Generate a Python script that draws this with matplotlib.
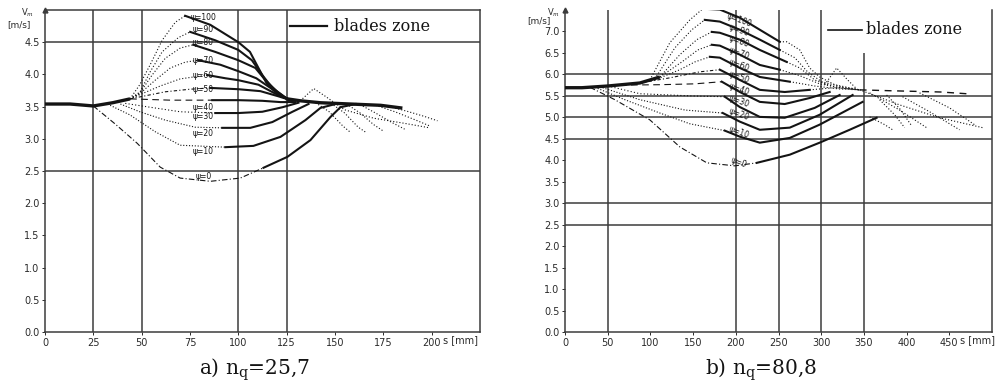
import matplotlib
matplotlib.use('Agg')
import matplotlib.pyplot as plt

plt.rcParams['mathtext.fontset'] = 'dejavuserif'

INK = '#141414'
GRID = '#3c3c3c'

# ---------------- a) nq = 25,7 ----------------
a_psi = [0, 10, 20, 30, 40, 50, 60, 70, 80, 90, 100]

# common inlet stretch
a_inlet_s = [0, 13, 25, 35, 44]
a_inlet_v = [3.54, 3.54, 3.51, 3.56, 3.62]

# upstream of the blades, one list per streamline
a_pre_s = [
    [25, 36.3, 47.7, 59.6, 69.9, 85.5, 101, 113],
    [33.7, 44, 57, 69.9, 93.3],
    [39, 49, 62.2, 77.7, 91.7],
    [41.5, 54.4, 69.9, 88.1],
    [44, 64.8, 86.5],
    [44, 62.2, 75.1, 85.5],
    [44, 59.6, 69.9, 83.9],
    [44, 49, 57, 64.8, 72.5, 79.3],
    [44, 49, 55.4, 62.2, 70, 76.7],
    [44, 49.2, 54.4, 60.6, 68.9, 75.1],
    [44, 49, 54.4, 60.6, 67.4, 72.5],
]
a_pre_v = [
    [3.51, 3.23, 2.93, 2.56, 2.39, 2.34, 2.39, 2.55],
    [3.52, 3.37, 3.11, 2.90, 2.87],
    [3.54, 3.42, 3.29, 3.18, 3.17],
    [3.55, 3.49, 3.42, 3.40],
    [3.62, 3.60, 3.60],
    [3.62, 3.73, 3.77, 3.79],
    [3.62, 3.82, 3.93, 3.99],
    [3.62, 3.70, 3.91, 4.10, 4.19, 4.22],
    [3.62, 3.71, 3.99, 4.25, 4.41, 4.46],
    [3.62, 3.73, 4.04, 4.35, 4.57, 4.66],
    [3.62, 3.84, 4.15, 4.53, 4.81, 4.91],
]

# inside the blade channel
a_blade_s = [
    [113, 125.4, 137.3, 147.7, 152.8, 160.6],
    [93.3, 107.8, 121.8, 134.7, 142.5, 150.3],
    [91.7, 106.2, 117.6, 128, 136.3],
    [88.1, 100, 112.4, 122.8, 131.1],
    [86.5, 100, 112.4, 121.8, 129.5],
    [85.5, 100, 111.4, 120.7, 128],
    [83.9, 93.3, 100, 110.4, 119.2, 126.9],
    [79.3, 90.7, 100, 109.3, 116.6, 122.8, 126.9],
    [76.7, 88, 100, 108.8, 114, 120.2, 125.9],
    [75.1, 88, 100, 107, 112.4, 117.6, 125.4],
    [72.5, 85.5, 100, 106, 110.4, 114.5, 119.7, 125.4],
]
a_blade_v = [
    [2.55, 2.72, 2.98, 3.34, 3.49, 3.54],
    [2.87, 2.89, 3.03, 3.29, 3.48, 3.54],
    [3.17, 3.17, 3.26, 3.42, 3.54],
    [3.40, 3.40, 3.42, 3.49, 3.56],
    [3.60, 3.60, 3.59, 3.57, 3.57],
    [3.79, 3.77, 3.74, 3.66, 3.59],
    [3.99, 3.94, 3.91, 3.84, 3.70, 3.60],
    [4.22, 4.15, 4.05, 3.94, 3.79, 3.66, 3.60],
    [4.46, 4.35, 4.22, 4.10, 3.91, 3.73, 3.60],
    [4.66, 4.53, 4.38, 4.22, 3.99, 3.79, 3.62],
    [4.91, 4.77, 4.50, 4.35, 4.10, 3.87, 3.71, 3.62],
]

a_trunk_s = [125.4, 132.1, 142.5, 158, 173.6, 184]
a_trunk_v = [3.62, 3.59, 3.56, 3.54, 3.52, 3.48]

# downstream traverses behind the impeller
a_out_s = [
    [132, 139, 145, 155, 170, 186, 199],
    [140, 147, 154, 158],
    [148, 155, 162, 166],
    [156, 163, 170, 175],
    [163, 171, 179, 186],
    [171, 181, 191, 199],
    [178, 187, 196, 203],
]
a_out_v = [
    [3.59, 3.78, 3.66, 3.45, 3.32, 3.24, 3.17],
    [3.56, 3.42, 3.20, 3.10],
    [3.55, 3.40, 3.18, 3.10],
    [3.54, 3.40, 3.22, 3.12],
    [3.53, 3.40, 3.26, 3.15],
    [3.52, 3.42, 3.30, 3.20],
    [3.50, 3.43, 3.35, 3.28],
]

a_label_s = 82
a_label_v = [2.41, 2.80, 3.09, 3.34, 3.49, 3.77, 3.99, 4.22, 4.50, 4.69, 4.89]

# ---------------- b) nq = 80,8 ----------------
b_psi = [0, 10, 20, 30, 40, 50, 60, 70, 80, 90, 100]

b_inlet_s = [0, 19.9, 50.3, 87.7, 111.1]
b_inlet_v = [5.69, 5.69, 5.73, 5.80, 5.94]

b_pre_s = [
    [29.2, 58.5, 99.4, 134.5, 166.1, 198.8, 224.6],
    [35.1, 70.2, 111.1, 146.2, 187.1],
    [40.9, 87.7, 140.4, 184.8],
    [50.3, 87.7, 146.2, 187.1],
    [64.3, 111.1, 152, 183.6],
    [87.7, 122.8, 157.9, 181.3],
    [105.3, 134.5, 152, 169.6],
    [111.1, 136.8, 155.6, 171.9],
    [111.1, 134.5, 154.4, 171.9],
    [105.3, 128.7, 148.5, 163.7],
    [99.4, 122.8, 146.2, 161.4],
]
b_pre_v = [
    [5.70, 5.41, 4.94, 4.31, 3.94, 3.87, 3.94],
    [5.70, 5.41, 5.10, 4.85, 4.69],
    [5.71, 5.41, 5.17, 5.10],
    [5.73, 5.55, 5.50, 5.48],
    [5.75, 5.76, 5.78, 5.83],
    [5.80, 5.92, 6.06, 6.11],
    [5.87, 6.11, 6.29, 6.41],
    [5.94, 6.29, 6.57, 6.69],
    [5.94, 6.46, 6.81, 6.99],
    [5.90, 6.62, 7.04, 7.27],
    [5.87, 6.74, 7.27, 7.53],
]

b_blade_s = [
    [224.6, 263.2, 298.2, 333.3, 364.9],
    [187.1, 204.7, 228.1, 263.2, 298.2, 348.5],
    [184.8, 204.7, 228.1, 263.2, 298.2, 336.8],
    [187.1, 204.7, 228.1, 257.3, 292.4, 321.6],
    [183.6, 204.7, 228.1, 257.3, 286.5, 309.9],
    [181.3, 204.7, 228.1, 257.3, 286.5],
    [169.6, 181.3, 204.7, 228.1, 263.2],
    [171.9, 181.3, 204.7, 228.1, 251.5],
    [171.9, 181.3, 204.7, 228.1, 259.6],
    [163.7, 181.3, 204.7, 228.1, 251.5],
    [161.4, 181.3, 204.7, 228.1, 251.5],
]
b_blade_v = [
    [3.94, 4.13, 4.41, 4.71, 4.99],
    [4.69, 4.55, 4.41, 4.52, 4.83, 5.36],
    [5.10, 4.90, 4.71, 4.76, 5.06, 5.52],
    [5.48, 5.24, 5.01, 4.99, 5.22, 5.52],
    [5.83, 5.59, 5.36, 5.31, 5.45, 5.59],
    [6.11, 5.87, 5.64, 5.59, 5.64],
    [6.41, 6.39, 6.15, 5.94, 5.83],
    [6.69, 6.67, 6.46, 6.22, 6.11],
    [6.99, 6.97, 6.81, 6.57, 6.29],
    [7.27, 7.23, 7.04, 6.81, 6.57],
    [7.53, 7.51, 7.32, 7.04, 6.76],
]

# behind the blades, the upper streamlines run back into the mean level
b_post_s = [
    [286.5, 315.8, 345],
    [263.2, 292.4, 321.6, 345],
    [251.5, 274.9, 298.2, 321.6, 345],
    [259.6, 274.9, 292.4, 315.8, 345],
    [251.5, 269, 284, 300.6, 327.5, 345],
    [251.5, 259.6, 274.9, 286.5, 298.2, 315.8, 345],
]
b_post_v = [
    [5.64, 5.69, 5.64],
    [5.83, 5.73, 5.66, 5.64],
    [6.11, 5.97, 5.78, 5.69, 5.64],
    [6.29, 6.15, 5.87, 5.71, 5.64],
    [6.57, 6.39, 6.06, 5.83, 5.69, 5.64],
    [6.76, 6.76, 6.57, 6.15, 5.94, 5.76, 5.64],
]

b_out_s = [
    [304.1, 318.1, 331, 342.7],
    [345, 391.8, 438.6, 488.9],
    [356.7, 391.8, 423.4],
    [376.6, 392, 406],
    [395.3, 426.9, 462],
    [415.2, 450.3, 479.5],
    [356.7, 374.3, 383.6],
    [368.4, 386, 397.7],
]
b_out_v = [
    [5.76, 6.15, 5.87, 5.64],
    [5.64, 5.29, 4.99, 4.76],
    [5.57, 5.17, 4.76],
    [5.52, 5.20, 4.80],
    [5.48, 5.13, 4.71],
    [5.57, 5.22, 4.83],
    [5.01, 4.83, 4.71],
    [5.41, 5.06, 4.76],
]

b_mean_s = [345, 380, 440, 470]
b_mean_v = [5.64, 5.62, 5.59, 5.55]

b_label_s = 204
b_label_v = [3.94, 4.64, 5.06, 5.38, 5.66, 5.94, 6.22, 6.50, 6.76, 7.02, 7.27]

# line patterns of the upstream traverses, lowest streamline first
pre_styles = [(0, (5, 2, 1, 2)), (0, (1, 1.6)), (0, (1, 1.6)), (0, (1, 2)),
              (0, (6, 4)), (0, (3, 2, 1, 2)), (0, (1, 1.8)), (0, (1, 1.8)),
              (0, (1, 1.8)), (0, (1, 1.8)), (0, (1, 1.8))]
DOT = (0, (1, 1.8))


def setup(ax, xmax, ymax, xticks, yticks, vgrid, hgrid, top):
    ax.set_xlim(0, xmax)
    ax.set_ylim(0, ymax)
    ax.set_xticks(xticks)
    ax.set_xticklabels([str(t) for t in xticks])
    ax.set_yticks(yticks)
    ax.set_yticklabels(['%.1f' % t for t in yticks])
    ax.tick_params(length=2, width=0.7, labelsize=7, colors='#2a2a2a', pad=2)
    for side in ('left', 'bottom', 'right'):
        ax.spines[side].set_color(GRID)
        ax.spines[side].set_linewidth(1.1)
    ax.spines['top'].set_visible(top)
    ax.spines['top'].set_color(GRID)
    ax.spines['top'].set_linewidth(1.1)
    for x in vgrid:
        ax.axvline(x, color=GRID, lw=1.1, zorder=1)
    for y in hgrid:
        ax.axhline(y, color=GRID, lw=1.1, zorder=1)
    ax.plot([0], [ymax], marker='^', ms=3.5, color=GRID, clip_on=False)


def draw_family(ax, inlet_s, inlet_v, pre_s, pre_v, blade_s, blade_v):
    ax.plot(inlet_s, inlet_v, color=INK, lw=2.4, solid_capstyle='butt', zorder=3)
    for k in range(len(pre_s)):
        ax.plot(pre_s[k], pre_v[k], color=INK, lw=0.8, linestyle=pre_styles[k], zorder=2)
        ax.plot(blade_s[k], blade_v[k], color=INK, lw=1.5, zorder=3)


fig = plt.figure(figsize=(10.05, 3.82), dpi=100)

# ---- panel a ----
ax1 = fig.add_axes([45 / 1005, 50 / 382, 435 / 1005, 322 / 382])
setup(ax1, 225, 5.0, [0, 25, 50, 75, 100, 125, 150, 175, 200],
      [0, 0.5, 1.0, 1.5, 2.0, 2.5, 3.0, 3.5, 4.0, 4.5],
      [25, 50, 100, 125], [2.5, 4.5], True)
draw_family(ax1, a_inlet_s, a_inlet_v, a_pre_s, a_pre_v, a_blade_s, a_blade_v)
ax1.plot(a_trunk_s, a_trunk_v, color=INK, lw=2.4, zorder=3)
for s, v in zip(a_out_s, a_out_v):
    ax1.plot(s, v, color=INK, lw=0.8, linestyle=DOT, zorder=2)
for p, v in zip(a_psi, a_label_v):
    ax1.text(a_label_s, v, 'ψ=%d' % p, fontsize=5.5, color=INK, ha='center', va='center', zorder=4)
ax1.plot([126.9, 146.1], [4.75, 4.75], color=INK, lw=1.6)
ax1.text(149.5, 4.75, 'blades zone', family='DejaVu Serif', fontsize=11.5,
         va='center', ha='left', color=INK)
ax1.text(206, -0.01, 's [mm]', transform=ax1.get_xaxis_transform(),
         fontsize=7, va='top', ha='left', color='#2a2a2a')

# ---- panel b ----
ax2 = fig.add_axes([565 / 1005, 50 / 382, 427 / 1005, 322 / 382])
setup(ax2, 500, 7.5, [0, 50, 100, 150, 200, 250, 300, 350, 400, 450],
      [0, 0.5, 1.0, 1.5, 2.0, 2.5, 3.0, 3.5, 4.0, 4.5, 5.0, 5.5, 6.0, 6.5, 7.0],
      [50, 200, 250, 300], [2.5, 3.0, 4.5, 5.0, 5.5, 6.0], False)
ax2.vlines(350, 0, 6.5, color=GRID, lw=1.1, zorder=1)
draw_family(ax2, b_inlet_s, b_inlet_v, b_pre_s, b_pre_v, b_blade_s, b_blade_v)
for s, v in zip(b_post_s, b_post_v):
    ax2.plot(s, v, color=INK, lw=0.8, linestyle=DOT, zorder=2)
for s, v in zip(b_out_s, b_out_v):
    ax2.plot(s, v, color=INK, lw=0.8, linestyle=DOT, zorder=2)
ax2.plot(b_mean_s, b_mean_v, color=INK, lw=1.0, linestyle=(0, (5, 4)), zorder=2)
for p, v in zip(b_psi, b_label_v):
    ax2.text(b_label_s, v, 'ψ=%d' % p, fontsize=5.5, color=INK, ha='center', va='center',
             rotation=-20, zorder=4)
ax2.plot([307.6, 348], [7.04, 7.04], color=INK, lw=1.2)
ax2.text(352, 7.04, 'blades zone', family='DejaVu Serif', fontsize=11.5,
         va='center', ha='left', color=INK)
ax2.text(462, -0.01, 's [mm]', transform=ax2.get_xaxis_transform(),
         fontsize=7, va='top', ha='left', color='#2a2a2a', clip_on=False)

# axis titles of the velocity
for x in (21 / 1005, 547 / 1005):
    fig.text(x, 1 - 13 / 382, 'V$_m$', fontsize=6, color='#2a2a2a', va='center')
fig.text(7 / 1005, 1 - 25 / 382, '[m/s]', fontsize=6.5, color='#2a2a2a', va='center')
fig.text(527 / 1005, 1 - 21 / 382, '[m/s]', fontsize=6.5, color='#2a2a2a', va='center')

fig.text(255 / 1005, 7 / 382, 'a) n$_\\mathrm{q}$=25,7', family='DejaVu Serif',
         fontsize=14.5, ha='center', va='baseline', color=INK)
fig.text(761 / 1005, 7 / 382, 'b) n$_\\mathrm{q}$=80,8', family='DejaVu Serif',
         fontsize=14.5, ha='center', va='baseline', color=INK)

fig.savefig('out.png', dpi=100)
